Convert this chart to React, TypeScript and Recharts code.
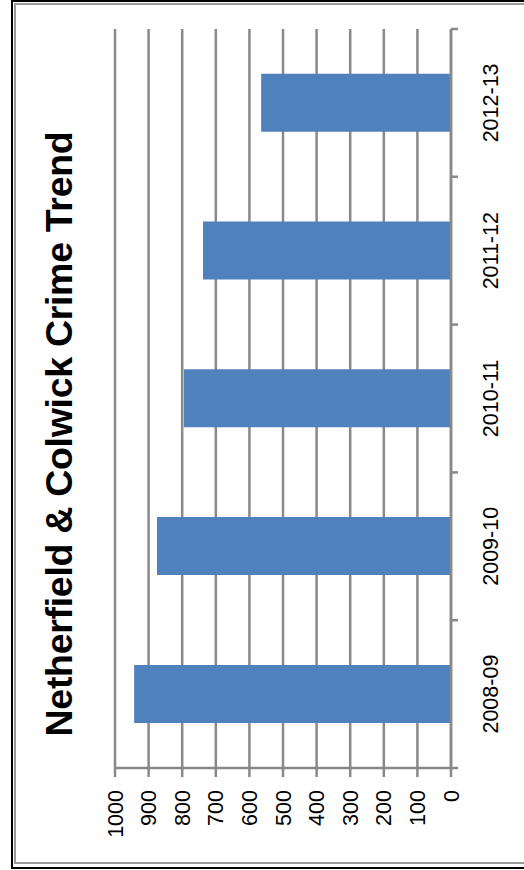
import { BarChart, Bar, XAxis, YAxis, CartesianGrid } from 'recharts';

const seasons = ['2008-09', '2009-10', '2010-11', '2011-12', '2012-13'];
const crimes = [943, 875, 795, 738, 565];
const valueTicks = [0, 100, 200, 300, 400, 500, 600, 700, 800, 900, 1000];

const data = seasons.map((season, i) => ({ season, crimes: crimes[i] }));

const GRAY = '#898989';
const FONT = '"Liberation Sans", Arial, sans-serif';

// chart is drawn upright, then the whole thing is turned a quarter left
const CW = 860;
const CH = 508;

function SeasonTick(props: any) {
  const { x, y, payload, index, visibleTicksCount } = props;
  const half = payload?.offset ?? 0;
  const last = index === (visibleTicksCount ?? seasons.length) - 1;
  return (
    <g>
      <line x1={x - half} y1={y} x2={x - half} y2={y + 7} stroke={GRAY} strokeWidth={2.5} />
      {last && <line x1={x + half} y1={y} x2={x + half} y2={y + 7} stroke={GRAY} strokeWidth={2.5} />}
      <text x={x} y={y + 32} dy="0.71em" textAnchor="middle" fontSize={21.5} fontFamily={FONT} fill="#000">
        {payload.value}
      </text>
    </g>
  );
}

export default function App() {
  return (
    <div style={{ position: 'fixed', inset: 0, overflow: 'hidden', background: '#fff' }}>
      <div
        style={{
          position: 'absolute', left: 11, top: 0, width: 700, height: 869,
          boxSizing: 'border-box', borderLeft: '2px solid #000', borderTop: '2px solid #000', borderBottom: '2px solid #000',
        }}
      />
      <div
        style={{
          position: 'absolute', left: 14, top: 3, width: 700, height: 861,
          boxSizing: 'border-box', borderLeft: '2px solid #9a9a9a', borderTop: '2px solid #9a9a9a', borderBottom: '2px solid #9a9a9a',
        }}
      />
      <div
        style={{
          position: 'absolute', left: 16, top: 4, width: CW, height: CH,
          transformOrigin: 'top left', transform: `translateY(${CW}px) rotate(-90deg)`,
        }}
      >
        <div
          style={{
            position: 'absolute', left: 0, top: 25, width: CW, textAlign: 'center',
            fontFamily: FONT, fontWeight: 'bold', fontSize: 37.5, lineHeight: 1, color: '#000', letterSpacing: -0.3,
          }}
        >
          Netherfield &amp; Colwick Crime Trend
        </div>
        <BarChart
          width={CW}
          height={CH}
          data={data}
          margin={{ top: 99, right: 25, bottom: 0, left: 0 }}
          barCategoryGap="30.5%"
        >
          <CartesianGrid vertical={false} stroke={GRAY} strokeWidth={2.5} />
          <XAxis
            dataKey="season"
            height={73}
            interval={0}
            axisLine={{ stroke: GRAY, strokeWidth: 2.5 }}
            tickLine={false}
            tickSize={0}
            tickMargin={0}
            tick={<SeasonTick />}
          />
          <YAxis
            width={96}
            domain={[0, 1000]}
            ticks={valueTicks}
            interval={0}
            axisLine={{ stroke: GRAY, strokeWidth: 2.5 }}
            tickLine={{ stroke: GRAY, strokeWidth: 2.5 }}
            tickSize={9}
            tickMargin={13}
            tick={{ fill: '#000', fontSize: 21.5, fontFamily: FONT }}
          />
          <Bar dataKey="crimes" fill="#4f81bd" isAnimationActive={false} />
        </BarChart>
      </div>
    </div>
  );
}
